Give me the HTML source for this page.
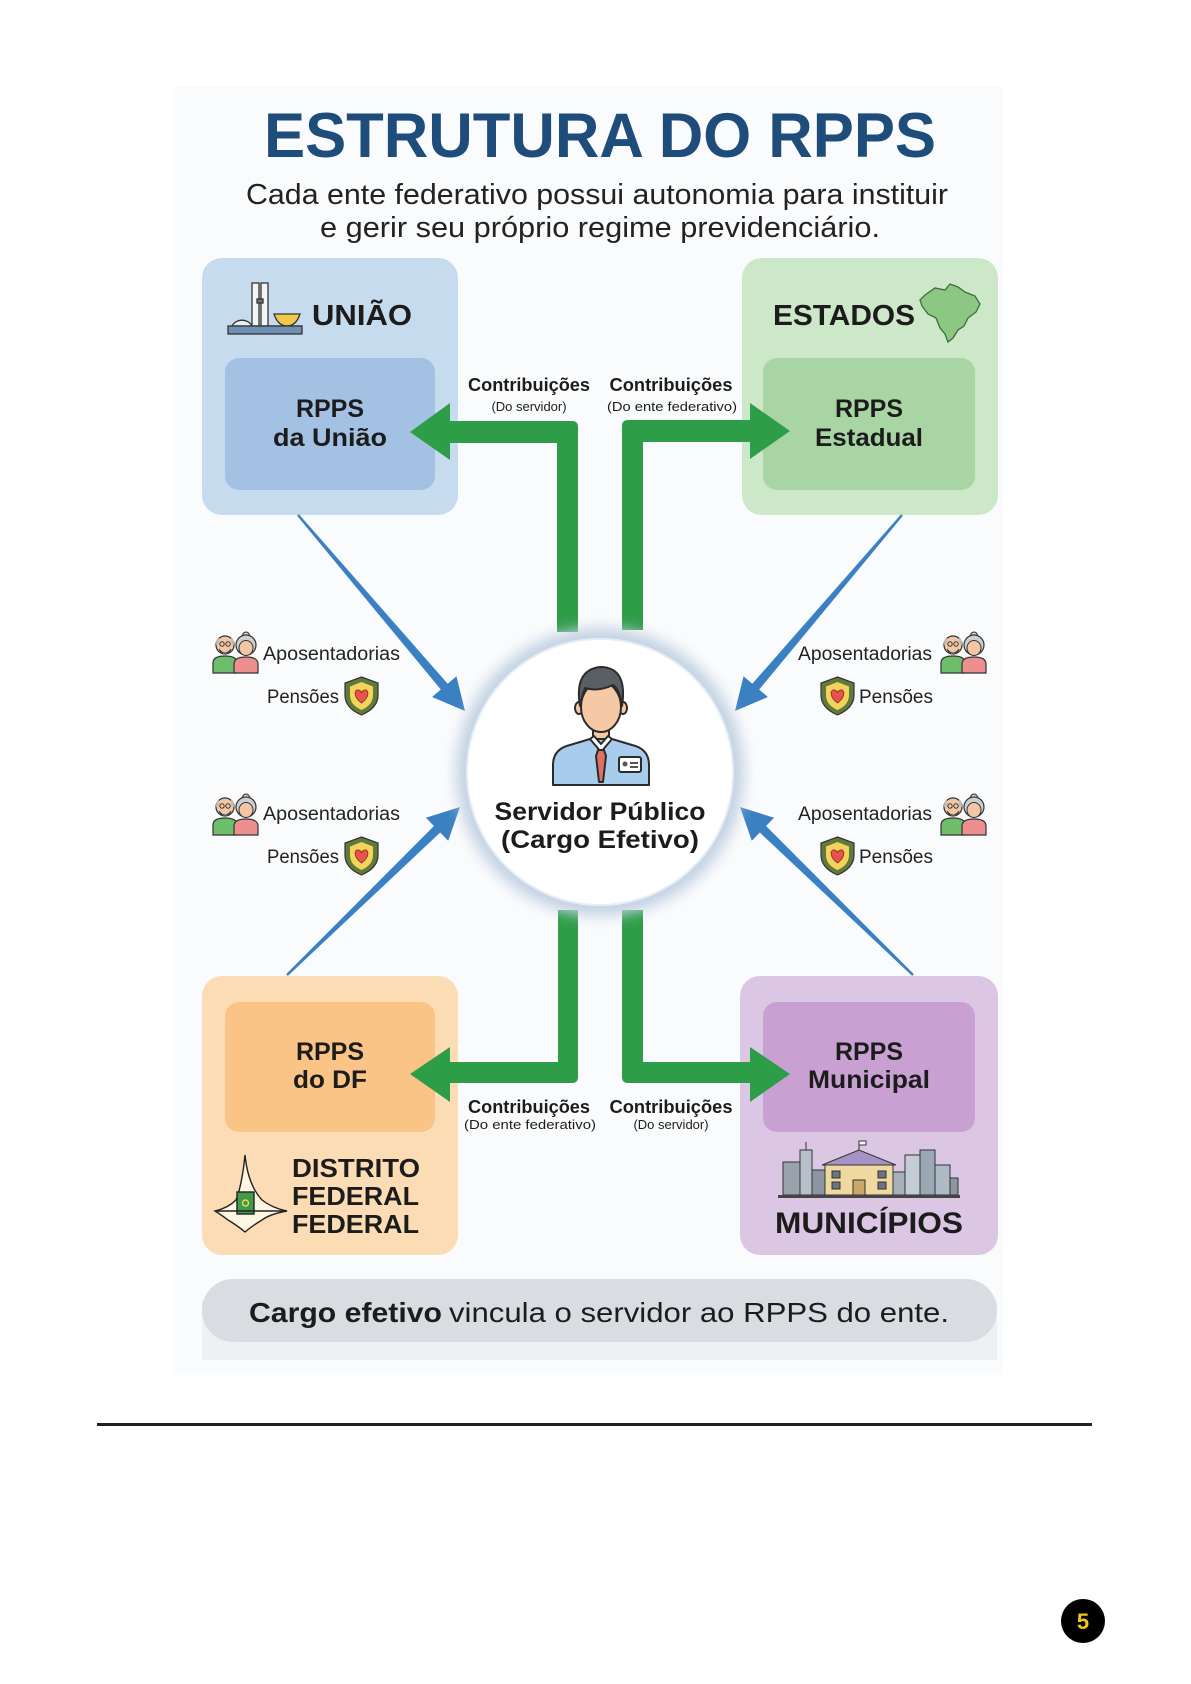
<!DOCTYPE html>
<html>
<head>
<meta charset="utf-8">
<style>
  html,body{margin:0;padding:0;background:#fff;}
  svg{display:block;}
  text{font-family:"Liberation Sans",sans-serif;}
</style>
</head>
<body>
<svg width="1191" height="1684" viewBox="0 0 1191 1684" xmlns="http://www.w3.org/2000/svg">
  <defs>
    <filter id="glow" x="-30%" y="-30%" width="160%" height="160%">
      <feGaussianBlur stdDeviation="7"/>
    </filter>
    <g id="couple">
      <path d="M1 40 L1 30 Q1 23 13 23 Q25 23 25 30 L25 40 Z" fill="#6dbd6b" stroke="#333" stroke-width="1.2"/>
      <circle cx="13" cy="12" r="9" fill="#f3c6a5" stroke="#333" stroke-width="1.2"/>
      <path d="M4 12 Q4 5 7 4 L7 10 Z M22 12 Q22 5 19 4 L19 10 Z" fill="#bdbdbd"/>
      <path d="M7 16 Q13 24 19 16 Q17 21 13 21 Q9 21 7 16 Z" fill="#d9d9d9" stroke="#333" stroke-width="0.8"/>
      <circle cx="10" cy="11" r="2.2" fill="none" stroke="#333" stroke-width="1"/>
      <circle cx="16" cy="11" r="2.2" fill="none" stroke="#333" stroke-width="1"/>
      <path d="M22 40 L22 31 Q22 24 34 24 Q46 24 46 31 L46 40 Z" fill="#ee8f8f" stroke="#333" stroke-width="1.2"/>
      <circle cx="34" cy="2.5" r="3.5" fill="#cfcfcf" stroke="#333" stroke-width="1"/>
      <circle cx="34" cy="12" r="10" fill="#cfcfcf" stroke="#333" stroke-width="1.2"/>
      <ellipse cx="34" cy="15" rx="7" ry="7.5" fill="#f3c6a5" stroke="#333" stroke-width="1"/>
    </g>
    <g id="shield">
      <path d="M16.5 0 L33 6 L33 18 Q33 31 16.5 38 Q0 31 0 18 L0 6 Z" fill="#5f7a3a" stroke="#333" stroke-width="1.2"/>
      <path d="M16.5 5 L28 9.5 L28 18 Q28 28 16.5 33 Q5 28 5 18 L5 9.5 Z" fill="#f3d35a"/>
      <path d="M16.5 26 C8 20 9 12 13.5 13 C15.5 13.5 16.5 15 16.5 16 C16.5 15 17.5 13.5 19.5 13 C24 12 25 20 16.5 26 Z" fill="#e5534b" stroke="#8a2a22" stroke-width="0.8"/>
    </g>
  </defs>

  <rect x="175" y="86" width="828" height="1289" fill="#fafbfc"/>

  <text x="264" y="157" font-size="63" font-weight="bold" fill="#1e4c7b" textLength="672" lengthAdjust="spacingAndGlyphs">ESTRUTURA DO RPPS</text>
  <text x="246" y="204" font-size="29" fill="#222" textLength="702" lengthAdjust="spacingAndGlyphs">Cada ente federativo possui autonomia para instituir</text>
  <text x="320" y="237" font-size="29" fill="#222" textLength="560" lengthAdjust="spacingAndGlyphs">e gerir seu próprio regime previdenciário.</text>

  <rect x="202" y="258" width="256" height="257" rx="20" fill="#c7dbee"/>
  <rect x="225" y="358" width="210" height="132" rx="14" fill="#a3c1e2"/>
  <rect x="742" y="258" width="256" height="257" rx="20" fill="#cde7c9"/>
  <rect x="763" y="358" width="212" height="132" rx="14" fill="#a8d5a3"/>
  <rect x="202" y="976" width="256" height="279" rx="20" fill="#fcdcb4"/>
  <rect x="225" y="1002" width="210" height="130" rx="14" fill="#f9c486"/>
  <rect x="740" y="976" width="258" height="279" rx="20" fill="#dbc6e3"/>
  <rect x="763" y="1002" width="212" height="130" rx="14" fill="#c9a0d2"/>

  <g stroke="#333" stroke-width="1.3">
    <path d="M232 326 A11 10 0 0 1 252 326 Z" fill="#e8eef5"/>
    <rect x="252" y="283" width="7" height="43" fill="#f4f4f4"/>
    <rect x="261" y="283" width="7" height="43" fill="#f4f4f4"/>
    <rect x="257" y="299" width="6" height="4" fill="#777"/>
    <path d="M274 314 L300 314 Q296 326 287 326 Q278 326 274 314 Z" fill="#f0c94a"/>
    <line x1="268" y1="326" x2="302" y2="326"/>
    <rect x="228" y="326" width="74" height="8" fill="#6f8fb5"/>
  </g>
  <text x="312" y="325" font-size="29" font-weight="bold" fill="#1c1c1c" textLength="100" lengthAdjust="spacingAndGlyphs">UNIÃO</text>

  <text x="773" y="325" font-size="29" font-weight="bold" fill="#1c1c1c" textLength="142" lengthAdjust="spacingAndGlyphs">ESTADOS</text>
  <path d="M925 295 L935 288 L945 290 L950 284 L958 287 L965 292 L975 296 L980 304 L976 312 L968 318 L964 326 L958 330 L953 338 L948 342 L945 334 L940 328 L936 318 L928 314 L922 306 L920 300 Z" fill="#8cc784" stroke="#3f6e3a" stroke-width="1.3"/>

  <g font-size="25" font-weight="bold" fill="#1c1c1c" text-anchor="middle">
    <text x="330" y="417">RPPS</text>
    <text x="330" y="446" textLength="114" lengthAdjust="spacingAndGlyphs">da União</text>
    <text x="869" y="417">RPPS</text>
    <text x="869" y="446" textLength="108" lengthAdjust="spacingAndGlyphs">Estadual</text>
    <text x="330" y="1060">RPPS</text>
    <text x="330" y="1088" textLength="74" lengthAdjust="spacingAndGlyphs">do DF</text>
    <text x="869" y="1060">RPPS</text>
    <text x="869" y="1088" textLength="122" lengthAdjust="spacingAndGlyphs">Municipal</text>
  </g>

  <g font-size="26" font-weight="bold" fill="#1c1c1c">
    <text x="292" y="1177" textLength="128" lengthAdjust="spacingAndGlyphs">DISTRITO</text>
    <text x="292" y="1205" textLength="127" lengthAdjust="spacingAndGlyphs">FEDERAL</text>
    <text x="292" y="1233" textLength="127" lengthAdjust="spacingAndGlyphs">FEDERAL</text>
  </g>
  <g stroke="#222" stroke-width="1.4">
    <path d="M245 1155 Q248 1185 262 1200 Q272 1208 287 1211 Q270 1214 262 1220 Q252 1226 245 1232 Q238 1226 228 1220 Q220 1214 215 1211 Q228 1208 236 1200 Q242 1185 245 1155 Z" fill="#fff6e2"/>
    <rect x="237" y="1192" width="17" height="22" fill="#3f9a4a"/>
    <line x1="215" y1="1211" x2="287" y2="1211"/>
    <circle cx="245.5" cy="1203" r="3" fill="none" stroke="#f3d35a"/>
  </g>

  <g stroke="#333" stroke-width="1">
    <rect x="783" y="1162" width="17" height="33" fill="#9aa3ad"/>
    <rect x="800" y="1150" width="12" height="45" fill="#b6c0cb"/>
    <line x1="806" y1="1142" x2="806" y2="1150"/>
    <rect x="812" y="1170" width="13" height="25" fill="#8c96a3"/>
    <rect x="825" y="1165" width="68" height="30" fill="#efd9a0"/>
    <path d="M822 1165 L859 1150 L896 1165 Z" fill="#a493c4"/>
    <line x1="859" y1="1141" x2="859" y2="1150"/>
    <rect x="859" y="1141" width="7" height="4" fill="#fff"/>
    <rect x="832" y="1171" width="8" height="7" fill="#6c7480"/>
    <rect x="832" y="1182" width="8" height="7" fill="#6c7480"/>
    <rect x="878" y="1171" width="8" height="7" fill="#6c7480"/>
    <rect x="878" y="1182" width="8" height="7" fill="#6c7480"/>
    <rect x="853" y="1180" width="12" height="15" fill="#c9a86a"/>
    <rect x="893" y="1172" width="12" height="23" fill="#a7b1bc"/>
    <rect x="905" y="1155" width="15" height="40" fill="#c4ccd6"/>
    <rect x="920" y="1150" width="15" height="45" fill="#9aa8b6"/>
    <rect x="935" y="1165" width="15" height="30" fill="#b0bac5"/>
    <rect x="950" y="1178" width="8" height="17" fill="#8c96a3"/>
  </g>
  <rect x="778" y="1195" width="182" height="3" fill="#444"/>
  <text x="775" y="1233" font-size="30" font-weight="bold" fill="#1c1c1c" textLength="188" lengthAdjust="spacingAndGlyphs">MUNICÍPIOS</text>

  <g fill="#3a80c2">
    <polygon points="298.91,514.22 447.68,683.72 456.43,676.26 465,711 432.07,697.02 440.82,689.56 297.09,515.78"/>
    <polygon points="901.09,514.22 752.32,683.72 743.57,676.26 735,711 767.93,697.02 759.18,689.56 902.91,515.78"/>
    <polygon points="287.84,975.86 440.18,832.52 448.19,840.77 460,807 425.91,817.81 433.92,826.06 286.16,974.14"/>
    <polygon points="912.16,975.86 759.82,832.52 751.81,840.77 740,807 774.09,817.81 766.08,826.06 913.84,974.14"/>
  </g>

  <g fill="#2e9d48">
    <path d="M578 632 L578 427 Q578 421 572 421 L450 421 L450 403 L410 432 L450 460 L450 443 L557 443 L557 632 Z"/>
    <path d="M622 630 L622 426 Q622 420 628 420 L750 420 L750 403 L790 431 L750 459 L750 442 L643 442 L643 630 Z"/>
    <path d="M558 910 L578 910 L578 1077 Q578 1083 572 1083 L450 1083 L450 1102 L410 1074 L450 1047 L450 1062 L558 1062 Z"/>
    <path d="M643 910 L622 910 L622 1077 Q622 1083 628 1083 L750 1083 L750 1102 L790 1074 L750 1047 L750 1062 L643 1062 Z"/>
  </g>

  <g fill="#1c1c1c" text-anchor="middle">
    <text x="529" y="391" font-size="18" font-weight="bold" textLength="122" lengthAdjust="spacingAndGlyphs">Contribuições</text>
    <text x="529" y="411" font-size="13">(Do servidor)</text>
    <text x="671" y="391" font-size="18" font-weight="bold" textLength="123" lengthAdjust="spacingAndGlyphs">Contribuições</text>
    <text x="672" y="411" font-size="13" textLength="130" lengthAdjust="spacingAndGlyphs">(Do ente federativo)</text>
    <text x="529" y="1113" font-size="18" font-weight="bold" textLength="122" lengthAdjust="spacingAndGlyphs">Contribuições</text>
    <text x="530" y="1129" font-size="13" textLength="132" lengthAdjust="spacingAndGlyphs">(Do ente federativo)</text>
    <text x="671" y="1113" font-size="18" font-weight="bold" textLength="123" lengthAdjust="spacingAndGlyphs">Contribuições</text>
    <text x="671" y="1129" font-size="13">(Do servidor)</text>
  </g>

  <circle cx="600" cy="772" r="144" fill="#c3d2e3" filter="url(#glow)"/>
  <circle cx="600" cy="772" r="133" fill="#ffffff" stroke="#e8eef5" stroke-width="2"/>

  <g stroke="#2b2b2b" stroke-width="2" stroke-linejoin="round">
    <rect x="593" y="728" width="16" height="14" fill="#f6c9a6"/>
    <path d="M553 785 L553 765 Q553 749 570 745 L590 739 L612 739 L632 745 Q649 749 649 765 L649 785 Z" fill="#a8cdec"/>
    <path d="M590 739 L601 752 L612 739 L608 736 L601 744 L594 736 Z" fill="#ffffff"/>
    <path d="M598 750 L604 750 L606 756 L603 782 L599 782 L596 756 Z" fill="#e07064"/>
    <rect x="619" y="757" width="22" height="15" rx="2" fill="#ffffff"/>
    <ellipse cx="579" cy="708" rx="4" ry="6" fill="#f6c9a6"/>
    <ellipse cx="623" cy="708" rx="4" ry="6" fill="#f6c9a6"/>
    <ellipse cx="601" cy="707" rx="20" ry="25" fill="#f6c9a6"/>
    <path d="M580 706 Q574 670 600 667 Q628 667 622 706 Q620 690 613 685 Q598 692 585 688 Q582 696 580 706 Z" fill="#5a5f66"/>
  </g>
  <circle cx="625" cy="764" r="2.5" fill="#555"/>
  <rect x="630" y="762" width="8" height="2" fill="#555"/>
  <rect x="630" y="766" width="8" height="2" fill="#555"/>

  <text x="600" y="820" font-size="25" font-weight="bold" fill="#1c1c1c" text-anchor="middle" textLength="211" lengthAdjust="spacingAndGlyphs">Servidor Público</text>
  <text x="600" y="848" font-size="25" font-weight="bold" fill="#1c1c1c" text-anchor="middle" textLength="198" lengthAdjust="spacingAndGlyphs">(Cargo Efetivo)</text>

  <use href="#couple" x="212" y="633"/>
  <use href="#shield" x="345" y="677"/>
  <use href="#couple" x="212" y="795"/>
  <use href="#shield" x="345" y="837"/>
  <use href="#couple" x="940" y="633"/>
  <use href="#shield" x="821" y="677"/>
  <use href="#couple" x="940" y="795"/>
  <use href="#shield" x="821" y="837"/>
  <g font-size="19" fill="#222">
    <text x="263" y="660" textLength="137" lengthAdjust="spacingAndGlyphs">Aposentadorias</text>
    <text x="267" y="703" textLength="72" lengthAdjust="spacingAndGlyphs">Pensões</text>
    <text x="263" y="820" textLength="137" lengthAdjust="spacingAndGlyphs">Aposentadorias</text>
    <text x="267" y="863" textLength="72" lengthAdjust="spacingAndGlyphs">Pensões</text>
    <text x="798" y="660" textLength="134" lengthAdjust="spacingAndGlyphs">Aposentadorias</text>
    <text x="859" y="703" textLength="74" lengthAdjust="spacingAndGlyphs">Pensões</text>
    <text x="798" y="820" textLength="134" lengthAdjust="spacingAndGlyphs">Aposentadorias</text>
    <text x="859" y="863" textLength="74" lengthAdjust="spacingAndGlyphs">Pensões</text>
  </g>

  <rect x="202" y="1300" width="795" height="60" fill="#eef1f4"/>
  <rect x="202" y="1279" width="795" height="63" rx="31" fill="#d9dde2"/>
  <text x="249" y="1322" font-size="28" font-weight="bold" fill="#1c1c1c" textLength="193" lengthAdjust="spacingAndGlyphs">Cargo efetivo</text>
  <text x="449" y="1322" font-size="28" fill="#1c1c1c" textLength="500" lengthAdjust="spacingAndGlyphs">vincula o servidor ao RPPS do ente.</text>

  <rect x="97" y="1423" width="995" height="3" fill="#222"/>

  <circle cx="1083" cy="1621" r="22" fill="#000"/>
  <text x="1083" y="1629" font-size="22" font-weight="bold" fill="#f5c518" text-anchor="middle">5</text>
</svg>
</body>
</html>
